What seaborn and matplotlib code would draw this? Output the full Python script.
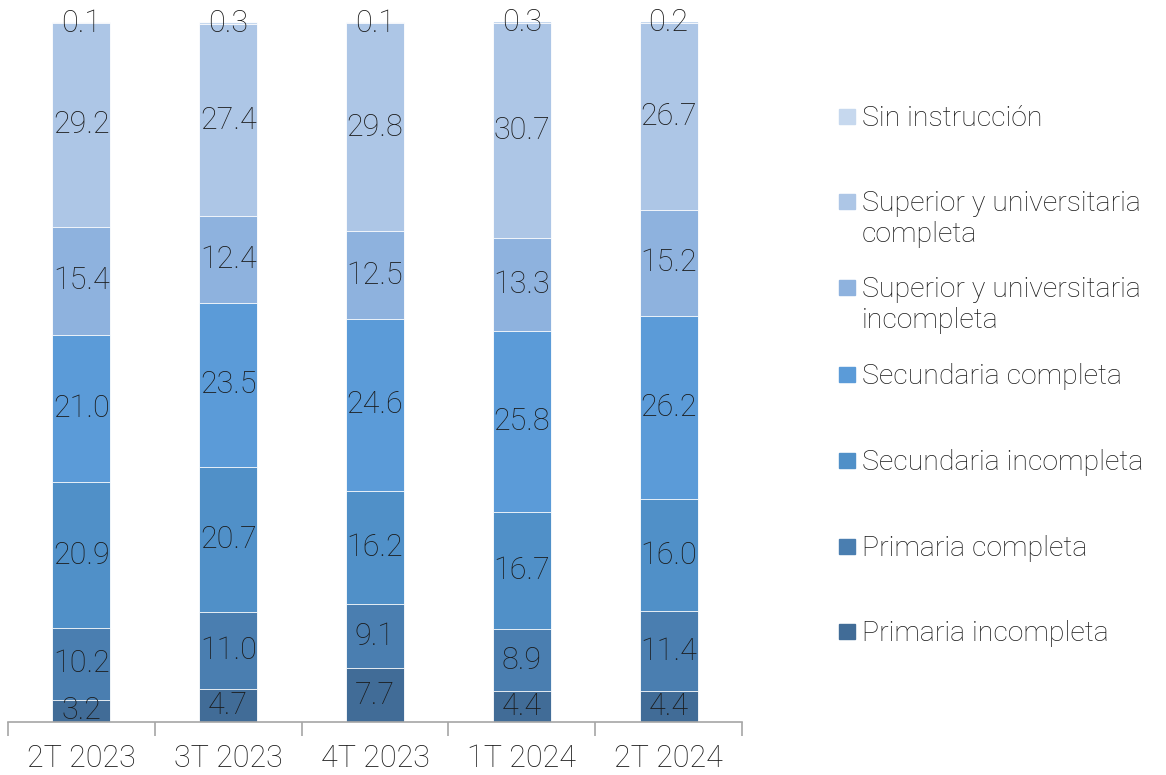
import matplotlib
matplotlib.use("Agg")
import matplotlib.pyplot as plt
import seaborn as sns
import numpy as np
import pandas as pd
from matplotlib.patches import Rectangle

categories = ["2T 2023", "3T 2023", "4T 2023", "1T 2024", "2T 2024"]
series_names = ["Primaria incompleta", "Primaria completa", "Secundaria incompleta",
                "Secundaria completa", "Superior y universitaria\nincompleta",
                "Superior y universitaria\ncompleta", "Sin instrucción"]
primaria_incompleta = [3.2, 4.7, 7.7, 4.4, 4.4]
primaria_completa = [10.2, 11.0, 9.1, 8.9, 11.4]
secundaria_incompleta = [20.9, 20.7, 16.2, 16.7, 16.0]
secundaria_completa = [21.0, 23.5, 24.6, 25.8, 26.2]
superior_incompleta = [15.4, 12.4, 12.5, 13.3, 15.2]
superior_completa = [29.2, 27.4, 29.8, 30.7, 26.7]
sin_instruccion = [0.1, 0.3, 0.1, 0.3, 0.2]

colors = ["#416C97", "#4A7EB0", "#5090C8", "#5B9BD8", "#8EB2DE", "#ADC6E6", "#C6D8EE"]

sns.set_style("white")
plt.rcParams['font.family'] = ['Roboto', 'DejaVu Sans']

series = [primaria_incompleta, primaria_completa, secundaria_incompleta,
          secundaria_completa, superior_incompleta, superior_completa, sin_instruccion]
vals = np.array(series)
cum = np.cumsum(vals, axis=0)
bottoms = cum - vals

fig = plt.figure(figsize=(11.66, 7.75), dpi=100)
W, H = 1166, 775
ax = fig.add_axes([8 / W, 53 / H, 734 / W, 700 / H])

bar_w = 0.395
for i in reversed(range(len(series))):
    df = pd.DataFrame({"cat": categories, "v": cum[i]})
    sns.barplot(data=df, x="cat", y="v", order=categories, color=colors[i],
                width=bar_w, saturation=1, edgecolor="white", linewidth=0.6, ax=ax)

for i in range(len(series)):
    for j in range(len(categories)):
        v = vals[i, j]
        y = bottoms[i, j] + v / 2
        if i == len(series) - 1:
            y = cum[i, j] - 0.2
        ax.text(j, y, f"{v:.1f}", ha="center", va="center", fontsize=22,
                color="#1a1a1a", fontweight="light", clip_on=False)

ax.set_xlim(-0.5, 4.5)
ax.set_ylim(0, 100)
ax.set_ylabel("")
ax.set_xlabel("")
ax.set_yticks([])
for s in ["top", "right", "left"]:
    ax.spines[s].set_visible(False)
ax.spines["bottom"].set_color("#a6a6a6")
ax.spines["bottom"].set_linewidth(1.2)
ax.set_xticks(range(len(categories)))
ax.set_xticklabels(categories, fontsize=22, color="#1a1a1a", fontweight="light")
ax.set_xticks(np.arange(-0.5, 5, 1), minor=True)
ax.tick_params(axis="x", which="major", length=0, pad=16)
ax.tick_params(axis="x", which="minor", bottom=True, length=10, width=1.2,
               color="#a6a6a6", direction="out")

# legend (top to bottom)
leg_y = [118, 203, 289, 376, 462, 548, 633]
for k, idx in enumerate(reversed(range(len(series)))):
    y = leg_y[k]
    fig.add_artist(Rectangle((839 / W, 1 - (y + 6) / H), 16 / W, 15 / H,
                             transform=fig.transFigure, color=colors[idx]))
    fig.text(862 / W, 1 - (y - 13) / H, series_names[idx], ha="left", va="top",
             fontsize=20.5, color="#1a1a1a", fontweight="light", linespacing=1.2)

fig.savefig("out.png", dpi=100)
